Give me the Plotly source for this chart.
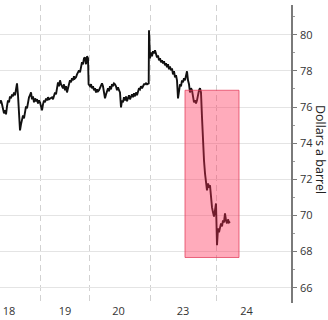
import plotly.graph_objects as go

# Session time index (trading-time units) and price, dollars a barrel
t = list(range(0, 88)) + [88, 88.6] + list(range(89, 149)) + [148.7, 149] + list(range(150, 231))
t = sorted(t)

price_18 = [76.20, 76.37, 76.15, 75.93, 75.65, 75.82, 75.60, 76.04, 76.37, 76.26,
            76.59, 76.48, 76.70, 76.59, 76.81, 76.65, 76.93, 77.31, 76.65, 75.37,
            74.71, 75.04, 75.26, 75.54, 75.37, 75.82, 76.04, 75.93, 76.37, 76.54,
            76.65, 76.81, 76.43, 76.59, 76.26, 76.48, 76.32, 76.43, 76.20, 76.37,
            76.26]
price_19 = [76.04, 75.82, 76.15, 76.37, 76.26, 76.48, 76.37, 76.54, 76.43, 76.48,
            76.48, 76.54, 76.43, 76.59, 76.81, 76.70, 77.04, 77.37, 77.15, 77.48,
            77.26, 77.15, 77.04, 77.26, 76.93, 77.15, 76.81, 77.04, 77.26, 77.48,
            77.37, 77.59, 77.48, 77.70, 77.59, 77.65, 77.81, 77.92, 78.03, 77.92,
            78.25, 78.48, 78.37, 78.70, 78.75, 78.37, 78.81, 78.70, 77.26]
price_20 = [77.20, 77.15, 77.26, 77.04, 77.15, 76.93, 77.04, 76.81, 76.98, 76.87,
            76.93, 77.04, 77.20, 77.31, 77.15, 76.81, 76.48, 76.70, 76.93, 77.04,
            76.87, 77.15, 76.98, 77.26, 77.15, 77.31, 77.26, 77.15, 76.93, 77.09,
            76.93, 76.81, 75.98, 76.37, 76.26, 76.54, 76.37, 76.59, 76.32, 76.48,
            76.65, 76.43, 76.59, 76.70, 76.54, 76.76, 76.59, 76.81, 76.65, 76.93,
            77.04, 76.98, 77.15, 77.04, 77.20, 77.26, 77.26, 77.31, 77.26, 77.31,
            77.31, 80.25]
price_23 = [78.70, 79.03, 78.81, 79.09, 78.97, 79.14, 78.92, 78.75, 78.86, 78.59,
            78.70, 78.48, 78.59, 78.42, 78.53, 78.31, 78.42, 78.20, 78.37, 78.09,
            78.25, 78.03, 78.14, 77.81, 77.98, 77.65, 77.76, 77.48, 76.48, 76.93,
            77.26, 77.15, 77.48, 77.37, 77.59, 77.48, 77.76, 77.98, 77.48, 77.26,
            76.81, 77.04, 76.93, 76.54, 76.26, 76.37, 76.20, 76.37, 76.81, 76.93,
            77.04, 76.81, 75.43, 73.99, 73.05, 72.33, 71.94, 71.39, 71.77, 71.61,
            71.66, 70.83, 70.44, 70.17, 69.94, 70.28, 70.66, 68.35]
price_24 = [69.28, 69.06, 69.45, 69.56, 69.39, 69.72, 69.61, 70.11, 69.72, 69.56,
            69.78, 69.61, 69.66]
price = price_18 + price_19 + price_20 + price_23 + price_24

day_labels = ["18", "19", "20", "23", "24"]
day_label_pos = [9, 65, 118.5, 183, 246.5]
day_boundaries = [40, 89, 150, 216.8]

# Highlighted window
hl_t = [185, 239]
hl_price = [67.67, 76.93]

fig = go.Figure()
fig.add_trace(go.Scatter(x=t, y=price, mode="lines",
                         line=dict(color="#111111", width=1.9),
                         hoverinfo="skip", showlegend=False))

fig.add_shape(type="rect", xref="x", yref="y",
              x0=hl_t[0], x1=hl_t[1], y0=hl_price[0], y1=hl_price[1],
              fillcolor="rgba(255,45,85,0.40)",
              line=dict(color="rgba(225,60,90,0.75)", width=1), layer="above")

fig.add_annotation(text="Dollars a barrel", xref="paper", yref="paper",
                   x=1, y=0.517, xanchor="center", yanchor="middle",
                   xshift=29, textangle=90, showarrow=False,
                   font=dict(family="Open Sans", size=12.5, color="#222222"))

fig.update_layout(
    width=328, height=320,
    margin=dict(l=0, r=37, t=5, b=17),
    plot_bgcolor="white", paper_bgcolor="white",
    font=dict(family="Open Sans", size=11, color="#333333"),
    xaxis=dict(range=[0, 291], tickmode="array", tickvals=day_label_pos,
               ticktext=day_labels, showgrid=False, zeroline=False,
               showline=False, ticks="", ticklabelstandoff=0,
               minor=dict(tickmode="array", tickvals=day_boundaries,
                          showgrid=True, gridcolor="#d2d2d2", gridwidth=1.2,
                          griddash="6px,4px", ticks="")),
    yaxis=dict(side="right", range=[65.15, 81.65], tickmode="linear",
               tick0=66, dtick=2, showgrid=True, gridcolor="#e4e4e4",
               gridwidth=1, zeroline=False, showline=True,
               linecolor="#7a7a7a", linewidth=1.5, ticks="outside",
               ticklen=4, tickcolor="#7a7a7a", tickwidth=1,
               ticklabelstandoff=1,
               minor=dict(dtick=1, tick0=65, ticks="outside", ticklen=2,
                          tickcolor="#9a9a9a", showgrid=False)),
)

fig.write_html("out.html")
